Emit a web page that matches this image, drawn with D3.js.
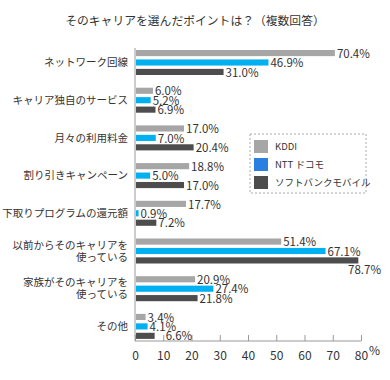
<!DOCTYPE html>
<html>
<head>
<meta charset="utf-8">
<script src="https://cdn.jsdelivr.net/npm/d3@7"></script>
<style>
  body { margin: 0; background: #fff; }
  svg text { font-family: "Noto Sans CJK JP", "Noto Sans", sans-serif; fill: #333; }
</style>
</head>
<body>
<div id="chart"></div>
<script>
/* CONSTANTS AND GLOBALS */
const width = 390,
  height = 380,
  margin = { top: 48, bottom: 41, left: 135, right: 29 };

/* DATA */
const categories = [
  ["ネットワーク回線"],
  ["キャリア独自のサービス"],
  ["月々の利用料金"],
  ["割り引きキャンペーン"],
  ["下取りプログラムの還元額"],
  ["以前からそのキャリアを", "使っている"],
  ["家族がそのキャリアを", "使っている"],
  ["その他"]
];
const series = ["KDDI", "NTT ドコモ", "ソフトバンクモバイル"];
const kddi = [70.4, 6.0, 17.0, 18.8, 17.7, 51.4, 20.9, 3.4];
const docomo = [46.9, 5.2, 7.0, 5.0, 0.9, 67.1, 27.4, 4.1];
const softbank = [31.0, 6.9, 20.4, 17.0, 7.2, 78.7, 21.8, 6.6];
const xTicks = [0, 10, 20, 30, 40, 50, 60, 70, 80];

const barColors = ["#a6a6a6", "#00b0f0", "#4d4d4d"];
const legendColors = ["#a6a6a6", "#2b7fe0", "#4d4d4d"];

const values = [kddi, docomo, softbank];
const rows = categories.map((c, i) => ({
  key: c.join(""),
  lines: c,
  vals: series.map((s, j) => ({ series: s, j, value: values[j][i] }))
}));

/* SVG */
const svg = d3.select("#chart")
  .append("svg")
  .attr("width", width)
  .attr("height", height);

// title
svg.append("text")
  .attr("x", 195)
  .attr("y", 22)
  .attr("text-anchor", "middle")
  .attr("dominant-baseline", "middle")
  .attr("font-size", "11.8px")
  .text("そのキャリアを選んだポイントは？（複数回答）");

/* SCALES */
const xScale = d3.scaleLinear()
  .domain([0, 80])
  .range([margin.left, width - margin.right]);

const y0 = d3.scaleBand()
  .domain(rows.map(d => d.key))
  .range([50, 50 + 8 * 37.7])
  .padding(0);

const y1 = d3.scaleBand()
  .domain(series)
  .range([0, 25])
  .paddingInner(0.35)
  .paddingOuter(0);

const plotBottom = height - margin.bottom + 2;

/* AXES */
const xAxis = d3.axisBottom(xScale)
  .tickValues(xTicks)
  .tickSize(-6)
  .tickPadding(10)
  .tickFormat(d => d);

const gx = svg.append("g")
  .attr("transform", `translate(0, ${plotBottom})`)
  .call(xAxis);
gx.select(".domain").attr("stroke", "#999").attr("d", `M${margin.left},0H${xScale(80)}`);
gx.selectAll(".tick line").attr("stroke", "#999");
gx.selectAll(".tick text")
  .attr("font-size", "12px")
  .style("font-family", '"Noto Sans CJK JP", sans-serif')
  .attr("fill", "#333");

svg.append("text")
  .attr("x", xScale(80) + 8)
  .attr("y", plotBottom + 11)
  .attr("dominant-baseline", "middle")
  .attr("font-size", "12px")
  .text("%");

// vertical axis line
svg.append("line")
  .attr("x1", margin.left)
  .attr("x2", margin.left)
  .attr("y1", margin.top)
  .attr("y2", plotBottom)
  .attr("stroke", "#999");

/* CATEGORY LABELS */
const catLabel = svg.append("g")
  .selectAll("text")
  .data(rows)
  .join("text")
  .attr("text-anchor", "end")
  .attr("font-size", "10.5px")
  .attr("y", d => y0(d.key) + 12.5 - (d.lines.length - 1) * 6);

catLabel.selectAll("tspan")
  .data(d => d.lines)
  .join("tspan")
  .attr("x", 128)
  .attr("dy", (d, i) => i === 0 ? "0.35em" : 12)
  .text(d => d);

/* BARS */
const groups = svg.append("g")
  .selectAll("g")
  .data(rows)
  .join("g")
  .attr("transform", d => `translate(0, ${y0(d.key)})`);

groups.selectAll("rect")
  .data(d => d.vals)
  .join("rect")
  .attr("x", xScale(0) + 1)
  .attr("y", d => y1(d.series))
  .attr("width", d => xScale(d.value) - xScale(0))
  .attr("height", y1.bandwidth())
  .attr("fill", d => barColors[d.j]);

// value labels (a couple are moved aside like in the source)
const nudge = { "その他|ソフトバンクモバイル": 9 };

groups.selectAll(".val")
  .data(d => d.vals.map(v => ({ ...v, cat: d.key })))
  .join("text")
  .attr("class", "val")
  .attr("font-size", "11.5px")
  .attr("dominant-baseline", "middle")
  .each(function(d) {
    const label = d.value.toFixed(1) + "%";
    let x = xScale(d.value) + 3 + (nudge[d.cat + "|" + d.series] || 0);
    let y = y1(d.series) + y1.bandwidth() / 2 + 1.5;
    let anchor = "start";
    if (x + 32 > width) {
      x = width - 9;
      y += 9;
      anchor = "end";
    }
    d3.select(this)
      .attr("x", x)
      .attr("y", y)
      .attr("text-anchor", anchor)
      .text(label);
  });

/* LEGEND */
const legend = svg.append("g").attr("transform", "translate(250, 134)");
legend.append("rect")
  .attr("width", 116)
  .attr("height", 59)
  .attr("fill", "none")
  .attr("stroke", "#aaa")
  .attr("stroke-dasharray", "2,2");

const item = legend.selectAll(".item")
  .data(series)
  .join("g")
  .attr("class", "item")
  .attr("transform", (d, i) => `translate(4, ${6 + i * 18})`);

item.append("rect")
  .attr("width", 14)
  .attr("height", 13)
  .attr("fill", (d, i) => legendColors[i]);

item.append("text")
  .attr("x", 21)
  .attr("y", 7)
  .attr("dominant-baseline", "middle")
  .attr("font-size", "9.5px")
  .text(d => d);
</script>
</body>
</html>
